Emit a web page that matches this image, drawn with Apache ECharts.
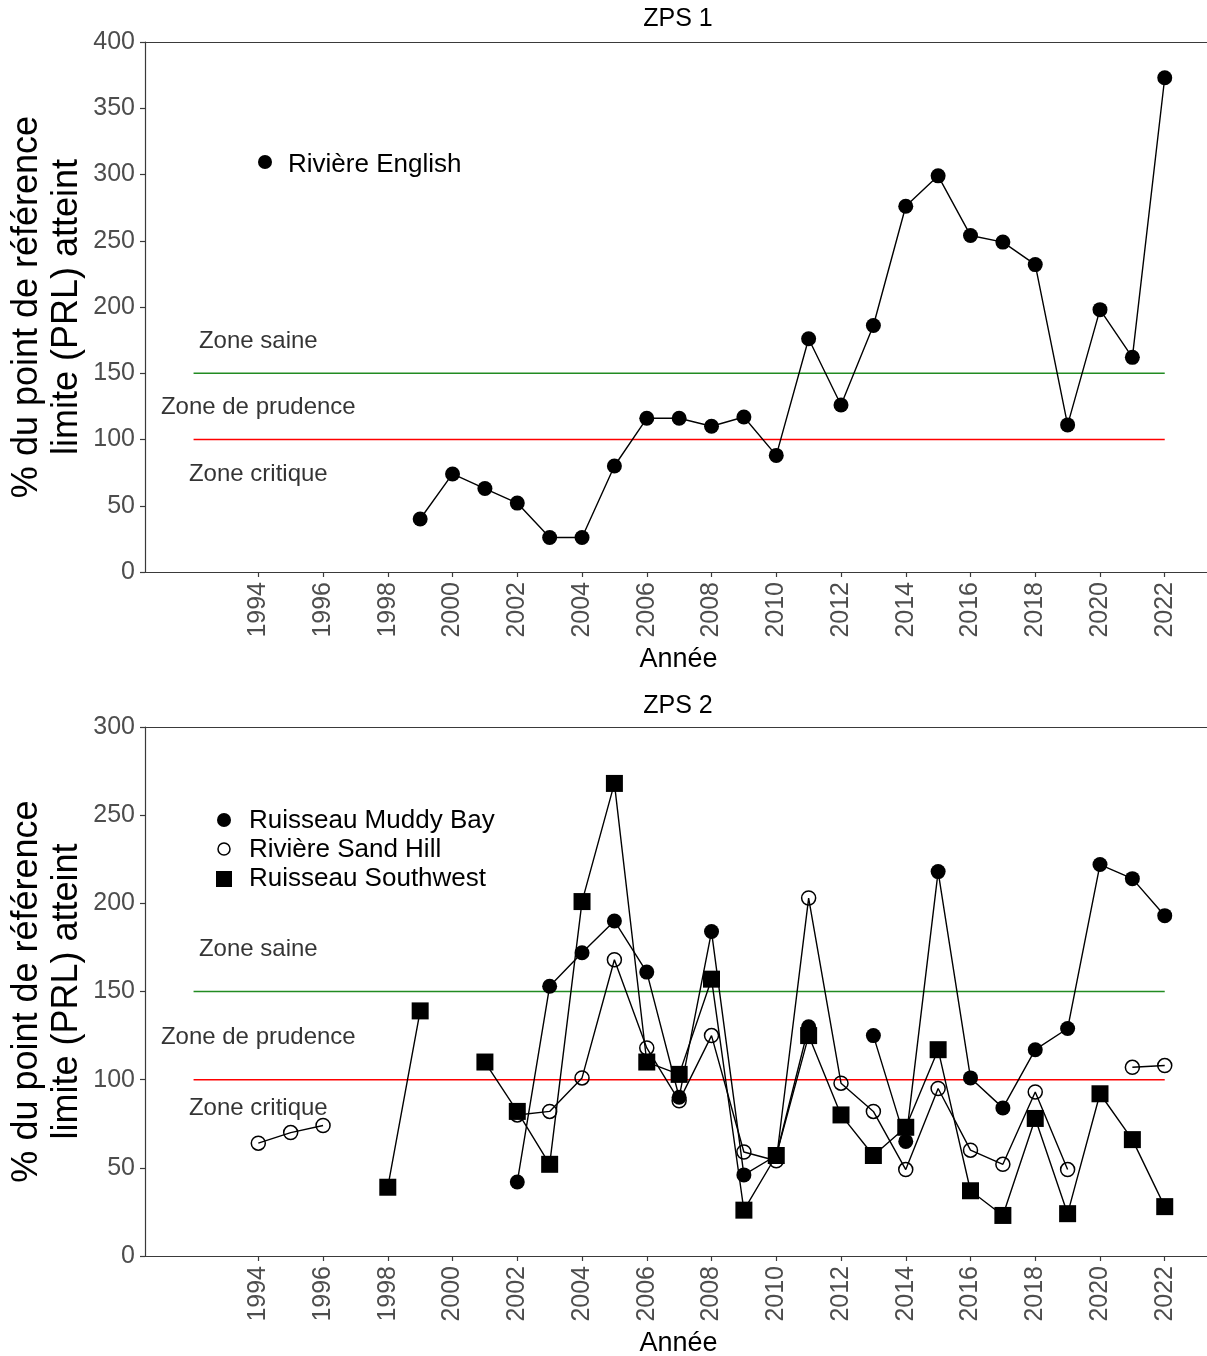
<!DOCTYPE html>
<html>
<head>
<meta charset="utf-8">
<script src="https://cdn.jsdelivr.net/npm/echarts@6.0.0/dist/echarts.min.js"></script>
<style>
  html, body { margin: 0; padding: 0; background: #ffffff; }
  #chart { width: 1207px; height: 1356px; }
</style>
</head>
<body>
<div id="chart"></div>
<script>
// ---- Data ----
const yearTicks = [1994, 1996, 1998, 2000, 2002, 2004, 2006, 2008, 2010, 2012, 2014, 2016, 2018, 2020, 2022];

// ZPS 1
const yearsZps1 = [1999, 2000, 2001, 2002, 2003, 2004, 2005, 2006, 2007, 2008, 2009, 2010,
                   2011, 2012, 2013, 2014, 2015, 2016, 2017, 2018, 2019, 2020, 2021, 2022];
const riviereEnglish = [40, 74, 63, 52, 26, 26, 80, 116, 116, 110, 117, 88,
                        176, 126, 186, 276, 299, 254, 249, 232, 111, 198, 162, 373];

// ZPS 2 (null = no survey that year)
const yearsZps2 = [1994, 1995, 1996, 1997, 1998, 1999, 2000, 2001, 2002, 2003, 2004, 2005,
                   2006, 2007, 2008, 2009, 2010, 2011, 2012, 2013, 2014, 2015, 2016, 2017,
                   2018, 2019, 2020, 2021, 2022];
const ruisseauMuddyBay = [null, null, null, null, null, null, null, null, 42, 153, 172, 190,
                          161, 90, 184, 46, 57, 130, null, 125, 65, 218, 101, 84,
                          117, 129, 222, 214, 193];
const riviereSandHill = [64, 70, 74, null, null, null, null, null, 80, 82, 101, 168,
                         118, 88, 125, 59, 54, 203, 98, 82, 49, 95, 60, 52,
                         93, 49, null, 107, 108];
const ruisseauSouthwest = [null, null, null, null, 39, 139, null, 110, 82, 52, 201, 268,
                           110, 103, 157, 26, 57, 125, 80, 57, 73, 117, 37, 23,
                           78, 24, 92, 66, 28];

// Reference points (% of the limit reference point)
const prsLevel = 150;   // upper stock reference
const prlLevel = 100;   // limit reference point
const refLineYears = [1992, 2022];

// ---- Styling helpers ----
const FONT = "'Liberation Sans', Arial, sans-serif";
const AXIS_COLOR = '#3a3a3a';
const TICK_LABEL_COLOR = '#4d4d4d';
const X_MIN = 1990.5;
const X_MAX = 2023.46;

function pairs(years, values) {
  return years.map((y, i) => [y, values[i] == null ? '-' : values[i]]);
}

function xAxes(gridIndex) {
  return [
    {
      type: 'value', gridIndex, min: X_MIN, max: X_MAX,
      name: 'Année', nameLocation: 'middle', nameGap: 74, nameMoveOverlap: false,
      nameTextStyle: { fontFamily: FONT, fontSize: 27, color: '#000' },
      axisLine: { show: true, lineStyle: { color: AXIS_COLOR, width: 1.2 } },
      axisTick: { show: true, length: 5, lineStyle: { color: AXIS_COLOR, width: 1.2 }, customValues: yearTicks },
      axisLabel: { show: true, rotate: 90, margin: 10, fontFamily: FONT, fontSize: 25,
                   color: TICK_LABEL_COLOR, customValues: yearTicks, formatter: v => String(v) },
      splitLine: { show: false }
    },
    {
      // top frame line under the panel strip
      type: 'value', gridIndex, position: 'top', min: X_MIN, max: X_MAX,
      axisLine: { show: true, lineStyle: { color: AXIS_COLOR, width: 1.2 } },
      axisTick: { show: false }, axisLabel: { show: false }, splitLine: { show: false }
    }
  ];
}

function yAxis(gridIndex, max) {
  return {
    type: 'value', gridIndex, min: 0, max, interval: 50,
    name: '% du point de référence\nlimite (PRL) atteint',
    nameLocation: 'middle', nameRotate: 90, nameGap: 58, nameMoveOverlap: false,
    nameTextStyle: { fontFamily: FONT, fontSize: 36, color: '#000', lineHeight: 40 },
    axisLine: { show: true, lineStyle: { color: AXIS_COLOR, width: 1.2 } },
    axisTick: { show: true, length: 5, lineStyle: { color: AXIS_COLOR, width: 1.2 } },
    axisLabel: { margin: 10, fontFamily: FONT, fontSize: 25, color: TICK_LABEL_COLOR },
    splitLine: { show: false }
  };
}

function refLine(idx, level, color) {
  return {
    type: 'line', xAxisIndex: idx * 2, yAxisIndex: idx, silent: true,
    data: refLineYears.map(y => [y, level]), symbol: 'none',
    lineStyle: { color, width: 1.5 }, z: 1
  };
}

function zoneLabels(idx, ySaine, yPrudence, yCritique) {
  return {
    type: 'scatter', xAxisIndex: idx * 2, yAxisIndex: idx, silent: true,
    symbolSize: 0, z: 5,
    data: [
      { name: 'Zone saine', value: [1994, ySaine] },
      { name: 'Zone de prudence', value: [1994, yPrudence] },
      { name: 'Zone critique', value: [1994, yCritique] }
    ],
    label: { show: true, position: 'inside', formatter: p => p.name, align: 'center',
             verticalAlign: 'middle', fontFamily: FONT, fontSize: 24, color: '#000' }
  };
}

function dataLine(idx, name, years, values, style) {
  return Object.assign({
    type: 'line', name, xAxisIndex: idx * 2, yAxisIndex: idx,
    data: pairs(years, values), connectNulls: false,
    lineStyle: { color: '#000', width: 1.4 }, z: 3
  }, style);
}

const filledCircle = { symbol: 'circle', symbolSize: 15, itemStyle: { color: '#000' } };
const openCircle = { symbol: 'circle', symbolSize: 14,
                     itemStyle: { color: 'rgba(255,255,255,0)', borderColor: '#000', borderWidth: 1.5 } };
const filledSquare = { symbol: 'rect', symbolSize: 17, itemStyle: { color: '#000' } };

const chart = echarts.init(document.getElementById('chart'), null, { renderer: 'canvas' });

chart.setOption({
  backgroundColor: '#ffffff',
  animation: false,
  title: [
    { text: 'ZPS 1', left: 678, top: 7, textAlign: 'center', padding: 0,
      textStyle: { fontFamily: FONT, fontSize: 25, fontWeight: 'normal', color: '#000' } },
    { text: 'ZPS 2', left: 678, top: 694, textAlign: 'center', padding: 0,
      textStyle: { fontFamily: FONT, fontSize: 25, fontWeight: 'normal', color: '#000' } }
  ],
  grid: [
    { left: 145, top: 42, width: 1067, height: 530, containLabel: false, outerBoundsMode: 'none' },
    { left: 145, top: 727, width: 1067, height: 529, containLabel: false, outerBoundsMode: 'none' }
  ],
  xAxis: [...xAxes(0), ...xAxes(1)],
  yAxis: [yAxis(0, 400), yAxis(1, 300)],
  series: [
    refLine(0, prsLevel, '#228B22'),
    refLine(0, prlLevel, '#ff0000'),
    zoneLabels(0, 174, 124, 74),
    dataLine(0, 'Rivière English', yearsZps1, riviereEnglish, filledCircle),

    refLine(1, prsLevel, '#228B22'),
    refLine(1, prlLevel, '#ff0000'),
    zoneLabels(1, 174, 124, 84),
    dataLine(1, 'Ruisseau Southwest', yearsZps2, ruisseauSouthwest, filledSquare),
    dataLine(1, 'Rivière Sand Hill', yearsZps2, riviereSandHill, openCircle),
    dataLine(1, 'Ruisseau Muddy Bay', yearsZps2, ruisseauMuddyBay, filledCircle)
  ],
  graphic: [
    // ZPS 1 key
    { type: 'circle', shape: { cx: 265, cy: 162, r: 7 }, style: { fill: '#000' } },
    { type: 'text', x: 288, y: 165, style: { text: 'Rivière English', font: "26px 'Liberation Sans', Arial",
      fill: '#000', verticalAlign: 'middle' } },
    // ZPS 2 key
    { type: 'circle', shape: { cx: 224, cy: 820, r: 7 }, style: { fill: '#000' } },
    { type: 'circle', shape: { cx: 224, cy: 849, r: 6 }, style: { fill: '#fff', stroke: '#000', lineWidth: 1.5 } },
    { type: 'rect', shape: { x: 216, y: 871, width: 16, height: 16 }, style: { fill: '#000' } },
    { type: 'text', x: 249, y: 821, style: { text: 'Ruisseau Muddy Bay', font: "26px 'Liberation Sans', Arial",
      fill: '#000', verticalAlign: 'middle' } },
    { type: 'text', x: 249, y: 850, style: { text: 'Rivière Sand Hill', font: "26px 'Liberation Sans', Arial",
      fill: '#000', verticalAlign: 'middle' } },
    { type: 'text', x: 249, y: 879, style: { text: 'Ruisseau Southwest', font: "26px 'Liberation Sans', Arial",
      fill: '#000', verticalAlign: 'middle' } }
  ]
});
</script>
</body>
</html>
